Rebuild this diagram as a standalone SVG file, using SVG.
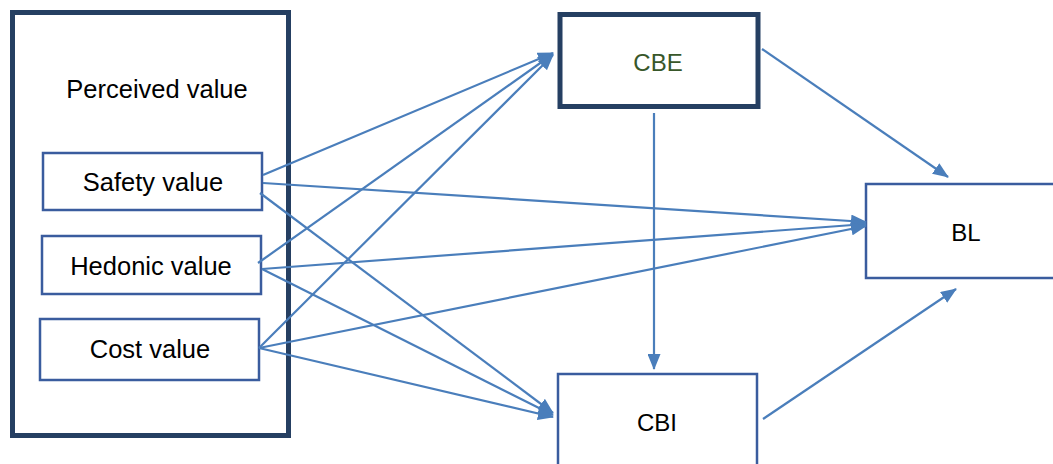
<svg xmlns="http://www.w3.org/2000/svg" width="1053" height="464" viewBox="0 0 1053 464">
<style>
.thick{fill:#fff;stroke:#253F62;stroke-width:5}
.thin{fill:#fff;stroke:#3A5C9E;stroke-width:2.5}
.t{font-family:"Liberation Sans",Arial,sans-serif;font-size:25.5px;fill:#000;text-anchor:middle}
.c{font-family:"Liberation Sans",Arial,sans-serif;font-size:24px;fill:#000;text-anchor:middle}
.conn line{stroke:#4A7EBB;stroke-width:2.2;fill:none}
</style>
<defs>
<marker id="arr" markerWidth="16" markerHeight="13" refX="15" refY="6.5" orient="auto" markerUnits="userSpaceOnUse">
<path d="M0,0 L16,6.5 L0,13 z" fill="#4A7EBB"/>
</marker>
</defs>
<g id="perceived-value">
<rect class="thick" x="12.5" y="12.5" width="276" height="423"/>
<text class="t" x="157" y="98">Perceived value</text>
</g>
<g id="safety-value">
<rect class="thin" x="43" y="153" width="219" height="57"/>
<text class="t" x="153" y="191">Safety value</text>
</g>
<g id="hedonic-value">
<rect class="thin" x="42" y="236" width="219" height="58"/>
<text class="t" x="151" y="275">Hedonic value</text>
</g>
<g id="cost-value">
<rect class="thin" x="40" y="319" width="219" height="61"/>
<text class="t" x="150" y="358">Cost value</text>
</g>
<g id="cbe">
<rect class="thick" x="560" y="14.5" width="198" height="92"/>
<text class="c" x="658" y="71" style="fill:#38572A">CBE</text>
</g>
<g id="cbi">
<rect class="thin" x="558" y="374" width="199" height="100"/>
<text class="c" x="657" y="431">CBI</text>
</g>
<g id="bl">
<rect class="thin" x="866" y="184" width="200" height="94"/>
<text class="c" x="966" y="241">BL</text>
</g>
<g id="connectors" class="conn">
<line x1="263" y1="175" x2="553" y2="53" marker-end="url(#arr)"/>
<line x1="263" y1="183" x2="866" y2="222" marker-end="url(#arr)"/>
<line x1="260" y1="193" x2="553" y2="413" marker-end="url(#arr)"/>
<line x1="258" y1="263" x2="553" y2="54" marker-end="url(#arr)"/>
<line x1="262" y1="269" x2="866" y2="224" marker-end="url(#arr)"/>
<line x1="262" y1="269" x2="553" y2="415" marker-end="url(#arr)"/>
<line x1="259" y1="348" x2="553" y2="55" marker-end="url(#arr)"/>
<line x1="259" y1="348" x2="866" y2="226" marker-end="url(#arr)"/>
<line x1="259" y1="348" x2="553" y2="417" marker-end="url(#arr)"/>
<line x1="762" y1="49" x2="948" y2="177" marker-end="url(#arr)"/>
<line x1="654" y1="113" x2="654" y2="369" marker-end="url(#arr)"/>
<line x1="763" y1="419" x2="956" y2="289" marker-end="url(#arr)"/>
</g>
</svg>
